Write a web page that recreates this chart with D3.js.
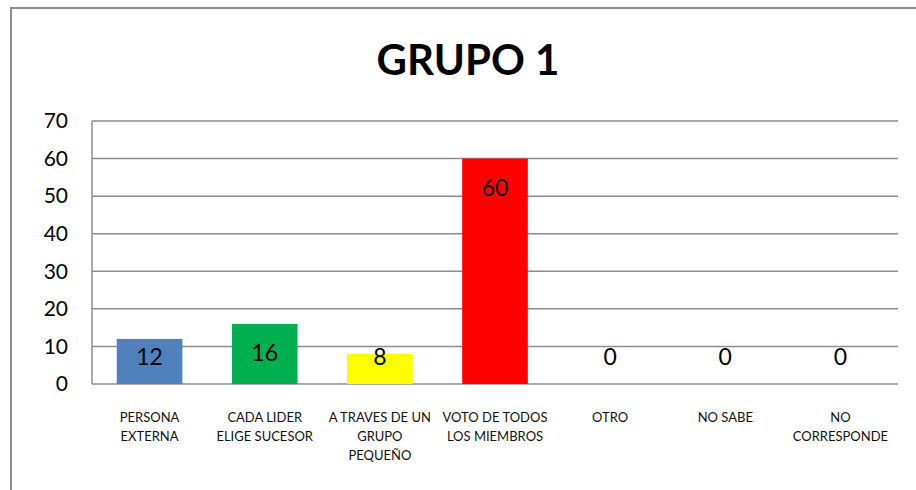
<!DOCTYPE html>
<html>
<head>
<meta charset="utf-8">
<script src="https://cdn.jsdelivr.net/npm/d3@7"></script>
<style>
  body { margin: 0; background: #ffffff; }
  svg { display: block; font-family: Lato, "Open Sans", sans-serif; }
</style>
</head>
<body>
<svg id="chart"></svg>
<script>
// Chart data
const categories = [
  ['PERSONA', 'EXTERNA'],
  ['CADA LIDER', 'ELIGE SUCESOR'],
  ['A TRAVES DE UN', 'GRUPO', 'PEQUEÑO'],
  ['VOTO DE TODOS', 'LOS MIEMBROS'],
  ['OTRO'],
  ['NO SABE'],
  ['NO', 'CORRESPONDE']
];
const values = [12, 16, 8, 60, 0, 0, 0];
const barColors = ['#4F81BD', '#00B050', '#FFFF00', '#FF0000', '#4F81BD', '#4F81BD', '#4F81BD'];
const yTicks = [0, 10, 20, 30, 40, 50, 60, 70];
const title = 'GRUPO 1';

const W = 916, H = 490;
const margin = { top: 121, right: 18, bottom: 106, left: 92 };
const width = W - margin.left - margin.right;
const height = H - margin.top - margin.bottom;

const svg = d3.select('#chart').attr('width', W).attr('height', H);

// Outer chart frame
svg.append('rect')
  .attr('x', 11).attr('y', 8)
  .attr('width', W + 20).attr('height', H + 20)
  .attr('fill', 'none')
  .attr('stroke', '#8c8c8c')
  .attr('stroke-width', 2);

// Title
svg.append('text')
  .attr('x', 468).attr('y', 75)
  .attr('text-anchor', 'middle')
  .attr('font-size', 42)
  .attr('font-weight', 'bold')
  .text(title);

const g = svg.append('g').attr('transform', `translate(${margin.left},${margin.top})`);

const x = d3.scaleBand()
  .domain(d3.range(categories.length))
  .range([0, width])
  .paddingInner(0.43)
  .paddingOuter(0.215);

const y = d3.scaleLinear().domain([0, 70]).range([height, 0]);

// Gridlines
g.append('g')
  .selectAll('line')
  .data(yTicks)
  .join('line')
  .attr('x1', 0).attr('x2', width)
  .attr('y1', d => y(d)).attr('y2', d => y(d))
  .attr('stroke', '#8c8c8c')
  .attr('stroke-width', 1.5);

// Left axis line
g.append('line')
  .attr('x1', 0).attr('x2', 0)
  .attr('y1', y(70)).attr('y2', y(0))
  .attr('stroke', '#8c8c8c')
  .attr('stroke-width', 1.5);

// Y axis labels
const yAxis = g.append('g')
  .call(d3.axisLeft(y).tickValues(yTicks).tickSize(0).tickPadding(24));
yAxis.select('.domain').remove();
yAxis.selectAll('text')
  .attr('font-family', 'Lato, "Open Sans", sans-serif')
  .attr('font-size', 21)
  .attr('fill', '#000');

// Bars
g.append('g')
  .selectAll('rect')
  .data(values)
  .join('rect')
  .attr('x', (d, i) => x(i))
  .attr('y', d => y(d))
  .attr('width', x.bandwidth())
  .attr('height', d => y(0) - y(d))
  .attr('fill', (d, i) => barColors[i]);

// Value labels
g.append('g')
  .selectAll('text')
  .data(values)
  .join('text')
  .attr('x', (d, i) => x(i) + x.bandwidth() / 2)
  .attr('y', d => Math.min(y(d) + 29, y(0) - 27))
  .attr('dy', '0.35em')
  .attr('text-anchor', 'middle')
  .attr('font-size', 23)
  .text(d => d);

// Category labels
const catG = g.append('g')
  .selectAll('text')
  .data(categories)
  .join('text')
  .attr('x', (d, i) => x(i) + x.bandwidth() / 2)
  .attr('y', height + 38)
  .attr('text-anchor', 'middle')
  .attr('font-size', 13)
  .attr('fill', '#111');

catG.selectAll('tspan')
  .data(d => d)
  .join('tspan')
  .attr('x', function () { return d3.select(this.parentNode).attr('x'); })
  .attr('dy', (d, i) => (i === 0 ? 0 : 19))
  .text(d => d);
</script>
</body>
</html>
